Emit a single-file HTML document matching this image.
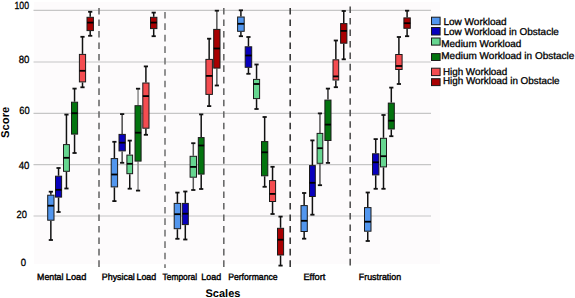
<!DOCTYPE html>
<html><head><meta charset="utf-8"><style>
html,body{margin:0;padding:0;background:#fff;}
body{width:575px;height:298px;overflow:hidden;font-family:"Liberation Sans",sans-serif;}
svg{display:block;} text{text-rendering:geometricPrecision;}
</style></head><body>
<svg width="575" height="298" viewBox="0 0 575 298">
<rect x="34" y="2" width="406" height="262" fill="#fdfbfc"/>
<line x1="33.5" y1="10.4" x2="431" y2="10.4" stroke="#c6c6c6" stroke-width="1.2"/>
<line x1="33.5" y1="62.0" x2="431" y2="62.0" stroke="#c6c6c6" stroke-width="1.2"/>
<line x1="33.5" y1="113.4" x2="431" y2="113.4" stroke="#c6c6c6" stroke-width="1.2"/>
<line x1="33.5" y1="164.7" x2="431" y2="164.7" stroke="#c6c6c6" stroke-width="1.2"/>
<line x1="33.5" y1="216.0" x2="431" y2="216.0" stroke="#c6c6c6" stroke-width="1.2"/>
<line x1="99.0" y1="8.0" x2="99.0" y2="268" stroke="#6a6a6a" stroke-width="1.6" stroke-dasharray="6.6 4.87"/>
<line x1="165.0" y1="11.9" x2="165.0" y2="268" stroke="#777" stroke-width="1.6" stroke-dasharray="6.6 4.87"/>
<line x1="223.8" y1="8.0" x2="223.8" y2="268" stroke="#6a6a6a" stroke-width="1.6" stroke-dasharray="6.6 4.87"/>
<line x1="290.2" y1="8.0" x2="290.2" y2="268" stroke="#3a3a3a" stroke-width="1.6" stroke-dasharray="6.6 4.87"/>
<line x1="350.2" y1="6.5" x2="350.2" y2="268" stroke="#555" stroke-width="1.6" stroke-dasharray="6.6 4.87"/>
<line x1="50.85" y1="191.70" x2="50.85" y2="194.70" stroke="#111" stroke-width="1.5"/>
<line x1="50.85" y1="220.70" x2="50.85" y2="240.00" stroke="#111" stroke-width="1.5"/>
<line x1="48.75" y1="191.70" x2="52.95" y2="191.70" stroke="#111" stroke-width="1.8"/>
<line x1="48.75" y1="240.00" x2="52.95" y2="240.00" stroke="#111" stroke-width="1.8"/>
<rect x="47.70" y="195.20" width="6.30" height="25.00" fill="#5296ee" stroke="#1a1a1a" stroke-width="1.0"/>
<line x1="47.70" y1="205.70" x2="54.00" y2="205.70" stroke="#000" stroke-width="1.8"/>
<line x1="58.55" y1="168.00" x2="58.55" y2="175.70" stroke="#111" stroke-width="1.5"/>
<line x1="58.55" y1="197.60" x2="58.55" y2="212.00" stroke="#111" stroke-width="1.5"/>
<line x1="56.45" y1="168.00" x2="60.65" y2="168.00" stroke="#111" stroke-width="1.8"/>
<line x1="56.45" y1="212.00" x2="60.65" y2="212.00" stroke="#111" stroke-width="1.8"/>
<rect x="55.50" y="176.20" width="6.10" height="20.90" fill="#0800bc" stroke="#1a1a1a" stroke-width="1.0"/>
<line x1="55.50" y1="189.80" x2="61.60" y2="189.80" stroke="#000" stroke-width="1.8"/>
<line x1="66.45" y1="114.60" x2="66.45" y2="144.10" stroke="#111" stroke-width="1.5"/>
<line x1="66.45" y1="171.80" x2="66.45" y2="188.50" stroke="#111" stroke-width="1.5"/>
<line x1="64.35" y1="114.60" x2="68.55" y2="114.60" stroke="#111" stroke-width="1.8"/>
<line x1="64.35" y1="188.50" x2="68.55" y2="188.50" stroke="#111" stroke-width="1.8"/>
<rect x="63.50" y="144.60" width="5.90" height="26.70" fill="#66d690" stroke="#1a1a1a" stroke-width="1.0"/>
<line x1="63.50" y1="157.80" x2="69.40" y2="157.80" stroke="#000" stroke-width="1.8"/>
<line x1="74.55" y1="88.60" x2="74.55" y2="101.70" stroke="#111" stroke-width="1.5"/>
<line x1="74.55" y1="134.60" x2="74.55" y2="153.00" stroke="#111" stroke-width="1.5"/>
<line x1="72.45" y1="88.60" x2="76.65" y2="88.60" stroke="#111" stroke-width="1.8"/>
<line x1="72.45" y1="153.00" x2="76.65" y2="153.00" stroke="#111" stroke-width="1.8"/>
<rect x="71.50" y="102.20" width="6.10" height="31.90" fill="#03740f" stroke="#1a1a1a" stroke-width="1.0"/>
<line x1="71.50" y1="113.20" x2="77.60" y2="113.20" stroke="#000" stroke-width="1.8"/>
<line x1="82.50" y1="36.80" x2="82.50" y2="53.90" stroke="#111" stroke-width="1.5"/>
<line x1="82.50" y1="82.40" x2="82.50" y2="87.30" stroke="#111" stroke-width="1.5"/>
<line x1="80.40" y1="36.80" x2="84.60" y2="36.80" stroke="#111" stroke-width="1.8"/>
<line x1="80.40" y1="87.30" x2="84.60" y2="87.30" stroke="#111" stroke-width="1.8"/>
<rect x="79.40" y="54.40" width="6.20" height="27.50" fill="#f44c50" stroke="#1a1a1a" stroke-width="1.0"/>
<line x1="79.40" y1="70.80" x2="85.60" y2="70.80" stroke="#000" stroke-width="1.8"/>
<line x1="90.20" y1="11.80" x2="90.20" y2="16.80" stroke="#111" stroke-width="1.5"/>
<line x1="90.20" y1="31.10" x2="90.20" y2="35.80" stroke="#111" stroke-width="1.5"/>
<line x1="88.10" y1="11.80" x2="92.30" y2="11.80" stroke="#111" stroke-width="1.8"/>
<line x1="88.10" y1="35.80" x2="92.30" y2="35.80" stroke="#111" stroke-width="1.8"/>
<rect x="87.00" y="17.30" width="6.40" height="13.30" fill="#a80002" stroke="#1a1a1a" stroke-width="1.0"/>
<line x1="87.00" y1="22.60" x2="93.40" y2="22.60" stroke="#000" stroke-width="1.8"/>
<line x1="114.40" y1="141.80" x2="114.40" y2="158.10" stroke="#111" stroke-width="1.5"/>
<line x1="114.40" y1="187.40" x2="114.40" y2="201.10" stroke="#111" stroke-width="1.5"/>
<line x1="112.30" y1="141.80" x2="116.50" y2="141.80" stroke="#111" stroke-width="1.8"/>
<line x1="112.30" y1="201.10" x2="116.50" y2="201.10" stroke="#111" stroke-width="1.8"/>
<rect x="111.20" y="158.60" width="6.40" height="28.30" fill="#5296ee" stroke="#1a1a1a" stroke-width="1.0"/>
<line x1="111.20" y1="174.50" x2="117.60" y2="174.50" stroke="#000" stroke-width="1.8"/>
<line x1="122.15" y1="114.10" x2="122.15" y2="133.90" stroke="#4a4a4a" stroke-width="1.5"/>
<line x1="122.15" y1="151.40" x2="122.15" y2="162.80" stroke="#4a4a4a" stroke-width="1.5"/>
<line x1="120.05" y1="114.10" x2="124.25" y2="114.10" stroke="#111" stroke-width="1.8"/>
<line x1="120.05" y1="162.80" x2="124.25" y2="162.80" stroke="#111" stroke-width="1.8"/>
<rect x="119.00" y="134.40" width="6.30" height="16.50" fill="#0800bc" stroke="#1a1a1a" stroke-width="1.0"/>
<line x1="119.00" y1="142.70" x2="125.30" y2="142.70" stroke="#000" stroke-width="1.8"/>
<line x1="129.75" y1="140.60" x2="129.75" y2="154.60" stroke="#111" stroke-width="1.5"/>
<line x1="129.75" y1="174.20" x2="129.75" y2="188.70" stroke="#111" stroke-width="1.5"/>
<line x1="127.65" y1="140.60" x2="131.85" y2="140.60" stroke="#111" stroke-width="1.8"/>
<line x1="127.65" y1="188.70" x2="131.85" y2="188.70" stroke="#111" stroke-width="1.8"/>
<rect x="126.90" y="155.10" width="5.70" height="18.60" fill="#66d690" stroke="#1a1a1a" stroke-width="1.0"/>
<line x1="126.90" y1="163.80" x2="132.60" y2="163.80" stroke="#000" stroke-width="1.8"/>
<line x1="138.05" y1="88.70" x2="138.05" y2="105.20" stroke="#8a8a8a" stroke-width="1.5"/>
<line x1="138.05" y1="161.60" x2="138.05" y2="190.60" stroke="#8a8a8a" stroke-width="1.5"/>
<line x1="135.95" y1="88.70" x2="140.15" y2="88.70" stroke="#111" stroke-width="1.8"/>
<line x1="135.95" y1="190.60" x2="140.15" y2="190.60" stroke="#111" stroke-width="1.8"/>
<rect x="135.00" y="105.70" width="6.10" height="55.40" fill="#03740f" stroke="#1a1a1a" stroke-width="1.0"/>
<line x1="135.00" y1="132.70" x2="141.10" y2="132.70" stroke="#000" stroke-width="1.8"/>
<line x1="145.90" y1="66.40" x2="145.90" y2="82.50" stroke="#111" stroke-width="1.5"/>
<line x1="145.90" y1="128.70" x2="145.90" y2="134.80" stroke="#111" stroke-width="1.5"/>
<line x1="143.80" y1="66.40" x2="148.00" y2="66.40" stroke="#111" stroke-width="1.8"/>
<line x1="143.80" y1="134.80" x2="148.00" y2="134.80" stroke="#111" stroke-width="1.8"/>
<rect x="142.80" y="83.00" width="6.20" height="45.20" fill="#f44c50" stroke="#1a1a1a" stroke-width="1.0"/>
<line x1="142.80" y1="96.10" x2="149.00" y2="96.10" stroke="#000" stroke-width="1.8"/>
<line x1="153.70" y1="12.60" x2="153.70" y2="16.80" stroke="#111" stroke-width="1.5"/>
<line x1="153.70" y1="29.10" x2="153.70" y2="36.20" stroke="#111" stroke-width="1.5"/>
<line x1="151.60" y1="12.60" x2="155.80" y2="12.60" stroke="#111" stroke-width="1.8"/>
<line x1="151.60" y1="36.20" x2="155.80" y2="36.20" stroke="#111" stroke-width="1.8"/>
<rect x="150.50" y="17.30" width="6.40" height="11.30" fill="#a80002" stroke="#1a1a1a" stroke-width="1.0"/>
<line x1="150.50" y1="22.60" x2="156.90" y2="22.60" stroke="#000" stroke-width="1.8"/>
<line x1="177.40" y1="192.60" x2="177.40" y2="202.90" stroke="#111" stroke-width="1.5"/>
<line x1="177.40" y1="229.20" x2="177.40" y2="238.80" stroke="#111" stroke-width="1.5"/>
<line x1="175.30" y1="192.60" x2="179.50" y2="192.60" stroke="#111" stroke-width="1.8"/>
<line x1="175.30" y1="238.80" x2="179.50" y2="238.80" stroke="#111" stroke-width="1.8"/>
<rect x="174.20" y="203.40" width="6.40" height="25.30" fill="#5296ee" stroke="#1a1a1a" stroke-width="1.0"/>
<line x1="174.20" y1="214.20" x2="180.60" y2="214.20" stroke="#000" stroke-width="1.8"/>
<line x1="185.30" y1="191.50" x2="185.30" y2="202.90" stroke="#111" stroke-width="1.5"/>
<line x1="185.30" y1="225.10" x2="185.30" y2="239.50" stroke="#111" stroke-width="1.5"/>
<line x1="183.20" y1="191.50" x2="187.40" y2="191.50" stroke="#111" stroke-width="1.8"/>
<line x1="183.20" y1="239.50" x2="187.40" y2="239.50" stroke="#111" stroke-width="1.8"/>
<rect x="182.30" y="203.40" width="6.00" height="21.20" fill="#0800bc" stroke="#1a1a1a" stroke-width="1.0"/>
<line x1="182.30" y1="213.70" x2="188.30" y2="213.70" stroke="#000" stroke-width="1.8"/>
<line x1="193.30" y1="143.20" x2="193.30" y2="155.80" stroke="#555" stroke-width="1.5"/>
<line x1="193.30" y1="177.70" x2="193.30" y2="190.00" stroke="#555" stroke-width="1.5"/>
<line x1="191.20" y1="143.20" x2="195.40" y2="143.20" stroke="#111" stroke-width="1.8"/>
<line x1="191.20" y1="190.00" x2="195.40" y2="190.00" stroke="#111" stroke-width="1.8"/>
<rect x="190.10" y="156.30" width="6.40" height="20.90" fill="#66d690" stroke="#1a1a1a" stroke-width="1.0"/>
<line x1="190.10" y1="166.90" x2="196.50" y2="166.90" stroke="#000" stroke-width="1.8"/>
<line x1="201.20" y1="114.40" x2="201.20" y2="137.10" stroke="#111" stroke-width="1.5"/>
<line x1="201.20" y1="174.60" x2="201.20" y2="189.00" stroke="#111" stroke-width="1.5"/>
<line x1="199.10" y1="114.40" x2="203.30" y2="114.40" stroke="#111" stroke-width="1.8"/>
<line x1="199.10" y1="189.00" x2="203.30" y2="189.00" stroke="#111" stroke-width="1.8"/>
<rect x="198.30" y="137.60" width="5.80" height="36.50" fill="#03740f" stroke="#1a1a1a" stroke-width="1.0"/>
<line x1="198.30" y1="145.50" x2="204.10" y2="145.50" stroke="#000" stroke-width="1.8"/>
<line x1="209.15" y1="38.70" x2="209.15" y2="58.90" stroke="#111" stroke-width="1.5"/>
<line x1="209.15" y1="94.90" x2="209.15" y2="106.10" stroke="#111" stroke-width="1.5"/>
<line x1="207.05" y1="38.70" x2="211.25" y2="38.70" stroke="#111" stroke-width="1.8"/>
<line x1="207.05" y1="106.10" x2="211.25" y2="106.10" stroke="#111" stroke-width="1.8"/>
<rect x="205.90" y="59.40" width="6.50" height="35.00" fill="#f44c50" stroke="#1a1a1a" stroke-width="1.0"/>
<line x1="205.90" y1="75.90" x2="212.40" y2="75.90" stroke="#000" stroke-width="1.8"/>
<line x1="216.85" y1="10.70" x2="216.85" y2="28.90" stroke="#555" stroke-width="1.5"/>
<line x1="216.85" y1="68.60" x2="216.85" y2="85.50" stroke="#555" stroke-width="1.5"/>
<line x1="214.75" y1="10.70" x2="218.95" y2="10.70" stroke="#111" stroke-width="1.8"/>
<line x1="214.75" y1="85.50" x2="218.95" y2="85.50" stroke="#111" stroke-width="1.8"/>
<rect x="213.70" y="29.40" width="6.30" height="38.70" fill="#a80002" stroke="#1a1a1a" stroke-width="1.0"/>
<line x1="213.70" y1="48.50" x2="220.00" y2="48.50" stroke="#000" stroke-width="1.8"/>
<line x1="240.90" y1="10.30" x2="240.90" y2="16.50" stroke="#111" stroke-width="1.5"/>
<line x1="240.90" y1="31.80" x2="240.90" y2="36.20" stroke="#111" stroke-width="1.5"/>
<line x1="238.80" y1="10.30" x2="243.00" y2="10.30" stroke="#111" stroke-width="1.8"/>
<line x1="238.80" y1="36.20" x2="243.00" y2="36.20" stroke="#111" stroke-width="1.8"/>
<rect x="237.60" y="17.00" width="6.60" height="14.30" fill="#5296ee" stroke="#1a1a1a" stroke-width="1.0"/>
<line x1="237.60" y1="23.80" x2="244.20" y2="23.80" stroke="#000" stroke-width="1.8"/>
<line x1="248.45" y1="37.00" x2="248.45" y2="46.30" stroke="#111" stroke-width="1.5"/>
<line x1="248.45" y1="67.80" x2="248.45" y2="73.80" stroke="#111" stroke-width="1.5"/>
<line x1="246.35" y1="37.00" x2="250.55" y2="37.00" stroke="#111" stroke-width="1.8"/>
<line x1="246.35" y1="73.80" x2="250.55" y2="73.80" stroke="#111" stroke-width="1.8"/>
<rect x="245.20" y="46.80" width="6.50" height="20.50" fill="#0800bc" stroke="#1a1a1a" stroke-width="1.0"/>
<line x1="245.20" y1="55.50" x2="251.70" y2="55.50" stroke="#000" stroke-width="1.8"/>
<line x1="256.55" y1="64.50" x2="256.55" y2="78.90" stroke="#111" stroke-width="1.5"/>
<line x1="256.55" y1="99.10" x2="256.55" y2="109.00" stroke="#111" stroke-width="1.5"/>
<line x1="254.45" y1="64.50" x2="258.65" y2="64.50" stroke="#111" stroke-width="1.8"/>
<line x1="254.45" y1="109.00" x2="258.65" y2="109.00" stroke="#111" stroke-width="1.8"/>
<rect x="253.50" y="79.40" width="6.10" height="19.20" fill="#66d690" stroke="#1a1a1a" stroke-width="1.0"/>
<line x1="253.50" y1="84.00" x2="259.60" y2="84.00" stroke="#000" stroke-width="1.8"/>
<line x1="264.65" y1="117.00" x2="264.65" y2="141.10" stroke="#111" stroke-width="1.5"/>
<line x1="264.65" y1="176.30" x2="264.65" y2="186.80" stroke="#111" stroke-width="1.5"/>
<line x1="262.55" y1="117.00" x2="266.75" y2="117.00" stroke="#111" stroke-width="1.8"/>
<line x1="262.55" y1="186.80" x2="266.75" y2="186.80" stroke="#111" stroke-width="1.8"/>
<rect x="261.50" y="141.60" width="6.30" height="34.20" fill="#03740f" stroke="#1a1a1a" stroke-width="1.0"/>
<line x1="261.50" y1="152.30" x2="267.80" y2="152.30" stroke="#000" stroke-width="1.8"/>
<line x1="272.55" y1="166.80" x2="272.55" y2="180.10" stroke="#111" stroke-width="1.5"/>
<line x1="272.55" y1="202.00" x2="272.55" y2="214.00" stroke="#111" stroke-width="1.5"/>
<line x1="270.45" y1="166.80" x2="274.65" y2="166.80" stroke="#111" stroke-width="1.8"/>
<line x1="270.45" y1="214.00" x2="274.65" y2="214.00" stroke="#111" stroke-width="1.8"/>
<rect x="269.50" y="180.60" width="6.10" height="20.90" fill="#f44c50" stroke="#1a1a1a" stroke-width="1.0"/>
<line x1="269.50" y1="193.90" x2="275.60" y2="193.90" stroke="#000" stroke-width="1.8"/>
<line x1="280.55" y1="216.60" x2="280.55" y2="227.80" stroke="#111" stroke-width="1.5"/>
<line x1="280.55" y1="255.50" x2="280.55" y2="265.60" stroke="#111" stroke-width="1.5"/>
<line x1="278.45" y1="216.60" x2="282.65" y2="216.60" stroke="#111" stroke-width="1.8"/>
<line x1="278.45" y1="265.60" x2="282.65" y2="265.60" stroke="#111" stroke-width="1.8"/>
<rect x="277.50" y="228.30" width="6.10" height="26.70" fill="#a80002" stroke="#1a1a1a" stroke-width="1.0"/>
<line x1="277.50" y1="239.70" x2="283.60" y2="239.70" stroke="#000" stroke-width="1.8"/>
<line x1="304.15" y1="193.00" x2="304.15" y2="205.10" stroke="#111" stroke-width="1.5"/>
<line x1="304.15" y1="232.00" x2="304.15" y2="238.70" stroke="#111" stroke-width="1.5"/>
<line x1="302.05" y1="193.00" x2="306.25" y2="193.00" stroke="#111" stroke-width="1.8"/>
<line x1="302.05" y1="238.70" x2="306.25" y2="238.70" stroke="#111" stroke-width="1.8"/>
<rect x="301.00" y="205.60" width="6.30" height="25.90" fill="#5296ee" stroke="#1a1a1a" stroke-width="1.0"/>
<line x1="301.00" y1="220.80" x2="307.30" y2="220.80" stroke="#000" stroke-width="1.8"/>
<line x1="312.40" y1="140.40" x2="312.40" y2="165.10" stroke="#111" stroke-width="1.5"/>
<line x1="312.40" y1="197.00" x2="312.40" y2="214.70" stroke="#111" stroke-width="1.5"/>
<line x1="310.30" y1="140.40" x2="314.50" y2="140.40" stroke="#111" stroke-width="1.8"/>
<line x1="310.30" y1="214.70" x2="314.50" y2="214.70" stroke="#111" stroke-width="1.8"/>
<rect x="309.50" y="165.60" width="5.80" height="30.90" fill="#0800bc" stroke="#1a1a1a" stroke-width="1.0"/>
<line x1="309.50" y1="182.80" x2="315.30" y2="182.80" stroke="#000" stroke-width="1.8"/>
<line x1="319.95" y1="113.40" x2="319.95" y2="132.90" stroke="#555" stroke-width="1.5"/>
<line x1="319.95" y1="163.80" x2="319.95" y2="185.20" stroke="#555" stroke-width="1.5"/>
<line x1="317.85" y1="113.40" x2="322.05" y2="113.40" stroke="#111" stroke-width="1.8"/>
<line x1="317.85" y1="185.20" x2="322.05" y2="185.20" stroke="#111" stroke-width="1.8"/>
<rect x="317.10" y="133.40" width="5.70" height="29.90" fill="#66d690" stroke="#1a1a1a" stroke-width="1.0"/>
<line x1="317.10" y1="148.20" x2="322.80" y2="148.20" stroke="#000" stroke-width="1.8"/>
<line x1="327.95" y1="88.60" x2="327.95" y2="99.60" stroke="#333" stroke-width="1.5"/>
<line x1="327.95" y1="141.00" x2="327.95" y2="162.90" stroke="#333" stroke-width="1.5"/>
<line x1="325.85" y1="88.60" x2="330.05" y2="88.60" stroke="#111" stroke-width="1.8"/>
<line x1="325.85" y1="162.90" x2="330.05" y2="162.90" stroke="#111" stroke-width="1.8"/>
<rect x="324.90" y="100.10" width="6.10" height="40.40" fill="#03740f" stroke="#1a1a1a" stroke-width="1.0"/>
<line x1="324.90" y1="124.60" x2="331.00" y2="124.60" stroke="#000" stroke-width="1.8"/>
<line x1="335.85" y1="40.50" x2="335.85" y2="59.30" stroke="#111" stroke-width="1.5"/>
<line x1="335.85" y1="80.50" x2="335.85" y2="87.20" stroke="#111" stroke-width="1.5"/>
<line x1="333.75" y1="40.50" x2="337.95" y2="40.50" stroke="#111" stroke-width="1.8"/>
<line x1="333.75" y1="87.20" x2="337.95" y2="87.20" stroke="#111" stroke-width="1.8"/>
<rect x="333.00" y="59.80" width="5.70" height="20.20" fill="#f44c50" stroke="#1a1a1a" stroke-width="1.0"/>
<line x1="333.00" y1="76.40" x2="338.70" y2="76.40" stroke="#000" stroke-width="1.8"/>
<line x1="343.75" y1="11.00" x2="343.75" y2="23.10" stroke="#111" stroke-width="1.5"/>
<line x1="343.75" y1="43.70" x2="343.75" y2="59.30" stroke="#111" stroke-width="1.5"/>
<line x1="341.65" y1="11.00" x2="345.85" y2="11.00" stroke="#111" stroke-width="1.8"/>
<line x1="341.65" y1="59.30" x2="345.85" y2="59.30" stroke="#111" stroke-width="1.8"/>
<rect x="340.60" y="23.60" width="6.30" height="19.60" fill="#a80002" stroke="#1a1a1a" stroke-width="1.0"/>
<line x1="340.60" y1="30.90" x2="346.90" y2="30.90" stroke="#000" stroke-width="1.8"/>
<line x1="367.75" y1="192.50" x2="367.75" y2="207.10" stroke="#111" stroke-width="1.5"/>
<line x1="367.75" y1="231.70" x2="367.75" y2="241.00" stroke="#111" stroke-width="1.5"/>
<line x1="365.65" y1="192.50" x2="369.85" y2="192.50" stroke="#111" stroke-width="1.8"/>
<line x1="365.65" y1="241.00" x2="369.85" y2="241.00" stroke="#111" stroke-width="1.8"/>
<rect x="364.50" y="207.60" width="6.50" height="23.60" fill="#5296ee" stroke="#1a1a1a" stroke-width="1.0"/>
<line x1="364.50" y1="221.70" x2="371.00" y2="221.70" stroke="#000" stroke-width="1.8"/>
<line x1="375.70" y1="139.10" x2="375.70" y2="153.30" stroke="#111" stroke-width="1.5"/>
<line x1="375.70" y1="175.40" x2="375.70" y2="188.80" stroke="#111" stroke-width="1.5"/>
<line x1="373.60" y1="139.10" x2="377.80" y2="139.10" stroke="#111" stroke-width="1.8"/>
<line x1="373.60" y1="188.80" x2="377.80" y2="188.80" stroke="#111" stroke-width="1.8"/>
<rect x="372.50" y="153.80" width="6.40" height="21.10" fill="#0800bc" stroke="#1a1a1a" stroke-width="1.0"/>
<line x1="372.50" y1="162.30" x2="378.90" y2="162.30" stroke="#000" stroke-width="1.8"/>
<line x1="383.50" y1="115.00" x2="383.50" y2="137.80" stroke="#111" stroke-width="1.5"/>
<line x1="383.50" y1="167.40" x2="383.50" y2="188.80" stroke="#111" stroke-width="1.5"/>
<line x1="381.40" y1="115.00" x2="385.60" y2="115.00" stroke="#111" stroke-width="1.8"/>
<line x1="381.40" y1="188.80" x2="385.60" y2="188.80" stroke="#111" stroke-width="1.8"/>
<rect x="380.50" y="138.30" width="6.00" height="28.60" fill="#66d690" stroke="#1a1a1a" stroke-width="1.0"/>
<line x1="380.50" y1="156.20" x2="386.50" y2="156.20" stroke="#000" stroke-width="1.8"/>
<line x1="391.30" y1="87.60" x2="391.30" y2="102.60" stroke="#111" stroke-width="1.5"/>
<line x1="391.30" y1="129.50" x2="391.30" y2="136.20" stroke="#111" stroke-width="1.5"/>
<line x1="389.20" y1="87.60" x2="393.40" y2="87.60" stroke="#111" stroke-width="1.8"/>
<line x1="389.20" y1="136.20" x2="393.40" y2="136.20" stroke="#111" stroke-width="1.8"/>
<rect x="388.30" y="103.10" width="6.00" height="25.90" fill="#03740f" stroke="#1a1a1a" stroke-width="1.0"/>
<line x1="388.30" y1="120.70" x2="394.30" y2="120.70" stroke="#000" stroke-width="1.8"/>
<line x1="398.90" y1="37.00" x2="398.90" y2="54.00" stroke="#111" stroke-width="1.5"/>
<line x1="398.90" y1="70.00" x2="398.90" y2="84.00" stroke="#111" stroke-width="1.5"/>
<line x1="396.80" y1="37.00" x2="401.00" y2="37.00" stroke="#111" stroke-width="1.8"/>
<line x1="396.80" y1="84.00" x2="401.00" y2="84.00" stroke="#111" stroke-width="1.8"/>
<rect x="395.70" y="54.50" width="6.40" height="15.00" fill="#f44c50" stroke="#1a1a1a" stroke-width="1.0"/>
<line x1="395.70" y1="66.00" x2="402.10" y2="66.00" stroke="#000" stroke-width="1.8"/>
<line x1="407.10" y1="10.70" x2="407.10" y2="17.40" stroke="#111" stroke-width="1.5"/>
<line x1="407.10" y1="28.80" x2="407.10" y2="36.20" stroke="#111" stroke-width="1.5"/>
<line x1="405.00" y1="10.70" x2="409.20" y2="10.70" stroke="#111" stroke-width="1.8"/>
<line x1="405.00" y1="36.20" x2="409.20" y2="36.20" stroke="#111" stroke-width="1.8"/>
<rect x="403.90" y="17.90" width="6.40" height="10.40" fill="#a80002" stroke="#1a1a1a" stroke-width="1.0"/>
<line x1="403.90" y1="23.20" x2="410.30" y2="23.20" stroke="#000" stroke-width="1.8"/>
<text x="14.50" y="8.70" font-family="Liberation Sans, sans-serif" font-size="10.4" fill="#000" stroke="#000" stroke-width="0.3" textLength="14.50" lengthAdjust="spacingAndGlyphs">100</text>
<text x="18.70" y="62.80" font-family="Liberation Sans, sans-serif" font-size="10.4" fill="#000" stroke="#000" stroke-width="0.3" textLength="10.70" lengthAdjust="spacingAndGlyphs">80</text>
<text x="19.30" y="113.80" font-family="Liberation Sans, sans-serif" font-size="10.4" fill="#000" stroke="#000" stroke-width="0.3" textLength="10.40" lengthAdjust="spacingAndGlyphs">60</text>
<text x="18.70" y="168.50" font-family="Liberation Sans, sans-serif" font-size="10.4" fill="#000" stroke="#000" stroke-width="0.3" textLength="10.70" lengthAdjust="spacingAndGlyphs">40</text>
<text x="16.60" y="218.40" font-family="Liberation Sans, sans-serif" font-size="10.4" fill="#000" stroke="#000" stroke-width="0.3" textLength="10.40" lengthAdjust="spacingAndGlyphs">20</text>
<text x="20.70" y="266.10" font-family="Liberation Sans, sans-serif" font-size="10.4" fill="#000" stroke="#000" stroke-width="0.3" textLength="5.30" lengthAdjust="spacingAndGlyphs">0</text>
<text x="37.10" y="279.6" font-family="Liberation Sans, sans-serif" font-size="9.2" fill="#000" stroke="#000" stroke-width="0.4" textLength="26.30" lengthAdjust="spacingAndGlyphs">Mental</text>
<text x="65.80" y="279.6" font-family="Liberation Sans, sans-serif" font-size="9.2" fill="#000" stroke="#000" stroke-width="0.4" textLength="20.50" lengthAdjust="spacingAndGlyphs">Load</text>
<text x="101.80" y="279.6" font-family="Liberation Sans, sans-serif" font-size="9.2" fill="#000" stroke="#000" stroke-width="0.4" textLength="33.00" lengthAdjust="spacingAndGlyphs">Physical</text>
<text x="136.50" y="279.6" font-family="Liberation Sans, sans-serif" font-size="9.2" fill="#000" stroke="#000" stroke-width="0.4" textLength="19.70" lengthAdjust="spacingAndGlyphs">Load</text>
<text x="162.60" y="279.6" font-family="Liberation Sans, sans-serif" font-size="9.2" fill="#000" stroke="#000" stroke-width="0.4" textLength="34.50" lengthAdjust="spacingAndGlyphs">Temporal</text>
<text x="201.30" y="279.6" font-family="Liberation Sans, sans-serif" font-size="9.2" fill="#000" stroke="#000" stroke-width="0.4" textLength="19.80" lengthAdjust="spacingAndGlyphs">Load</text>
<text x="228.20" y="279.6" font-family="Liberation Sans, sans-serif" font-size="9.2" fill="#000" stroke="#000" stroke-width="0.4" textLength="49.40" lengthAdjust="spacingAndGlyphs">Performance</text>
<text x="303.40" y="279.6" font-family="Liberation Sans, sans-serif" font-size="9.2" fill="#000" stroke="#000" stroke-width="0.4" textLength="22.00" lengthAdjust="spacingAndGlyphs">Effort</text>
<text x="358.80" y="279.6" font-family="Liberation Sans, sans-serif" font-size="9.2" fill="#000" stroke="#000" stroke-width="0.4" textLength="42.30" lengthAdjust="spacingAndGlyphs">Frustration</text>
<text x="205.5" y="297" font-family="Liberation Sans, sans-serif" font-size="11" font-weight="bold" fill="#000" textLength="34.9" lengthAdjust="spacingAndGlyphs">Scales</text>
<text transform="translate(9.3,137.9) rotate(-90)" x="0" y="0" font-family="Liberation Sans, sans-serif" font-size="11.3" font-weight="bold" fill="#000" textLength="31.2" lengthAdjust="spacingAndGlyphs">Score</text>
<rect x="431.5" y="17.20" width="8.6" height="7.50" fill="#5296ee" stroke="#1a1a1a" stroke-width="1"/>
<text x="443.40" y="24.80" font-family="Liberation Sans, sans-serif" font-size="9.9" fill="#000" stroke="#000" stroke-width="0.3" textLength="63.30" lengthAdjust="spacingAndGlyphs">Low Workload</text>
<rect x="431.5" y="27.50" width="8.6" height="7.50" fill="#0800bc" stroke="#1a1a1a" stroke-width="1"/>
<text x="443.40" y="35.10" font-family="Liberation Sans, sans-serif" font-size="9.9" fill="#000" stroke="#000" stroke-width="0.3" textLength="115.50" lengthAdjust="spacingAndGlyphs">Low Workload in Obstacle</text>
<rect x="431.5" y="38.00" width="8.6" height="7.10" fill="#66d690" stroke="#1a1a1a" stroke-width="1"/>
<text x="441.30" y="46.50" font-family="Liberation Sans, sans-serif" font-size="9.9" fill="#000" stroke="#000" stroke-width="0.3" textLength="80.00" lengthAdjust="spacingAndGlyphs">Medium Workload</text>
<rect x="431.5" y="53.60" width="8.6" height="6.90" fill="#03740f" stroke="#1a1a1a" stroke-width="1"/>
<text x="441.30" y="59.00" font-family="Liberation Sans, sans-serif" font-size="9.9" fill="#000" stroke="#000" stroke-width="0.3" textLength="133.00" lengthAdjust="spacingAndGlyphs">Medium Workload in Obstacle</text>
<rect x="431.5" y="68.20" width="8.6" height="7.40" fill="#f44c50" stroke="#1a1a1a" stroke-width="1"/>
<text x="442.90" y="75.30" font-family="Liberation Sans, sans-serif" font-size="9.9" fill="#000" stroke="#000" stroke-width="0.3" textLength="64.40" lengthAdjust="spacingAndGlyphs">High Workload</text>
<rect x="431.5" y="78.70" width="8.6" height="6.90" fill="#a80002" stroke="#1a1a1a" stroke-width="1"/>
<text x="442.90" y="84.20" font-family="Liberation Sans, sans-serif" font-size="9.9" fill="#000" stroke="#000" stroke-width="0.3" textLength="116.70" lengthAdjust="spacingAndGlyphs">High Workload in Obstacle</text>
</svg>
</body></html>
